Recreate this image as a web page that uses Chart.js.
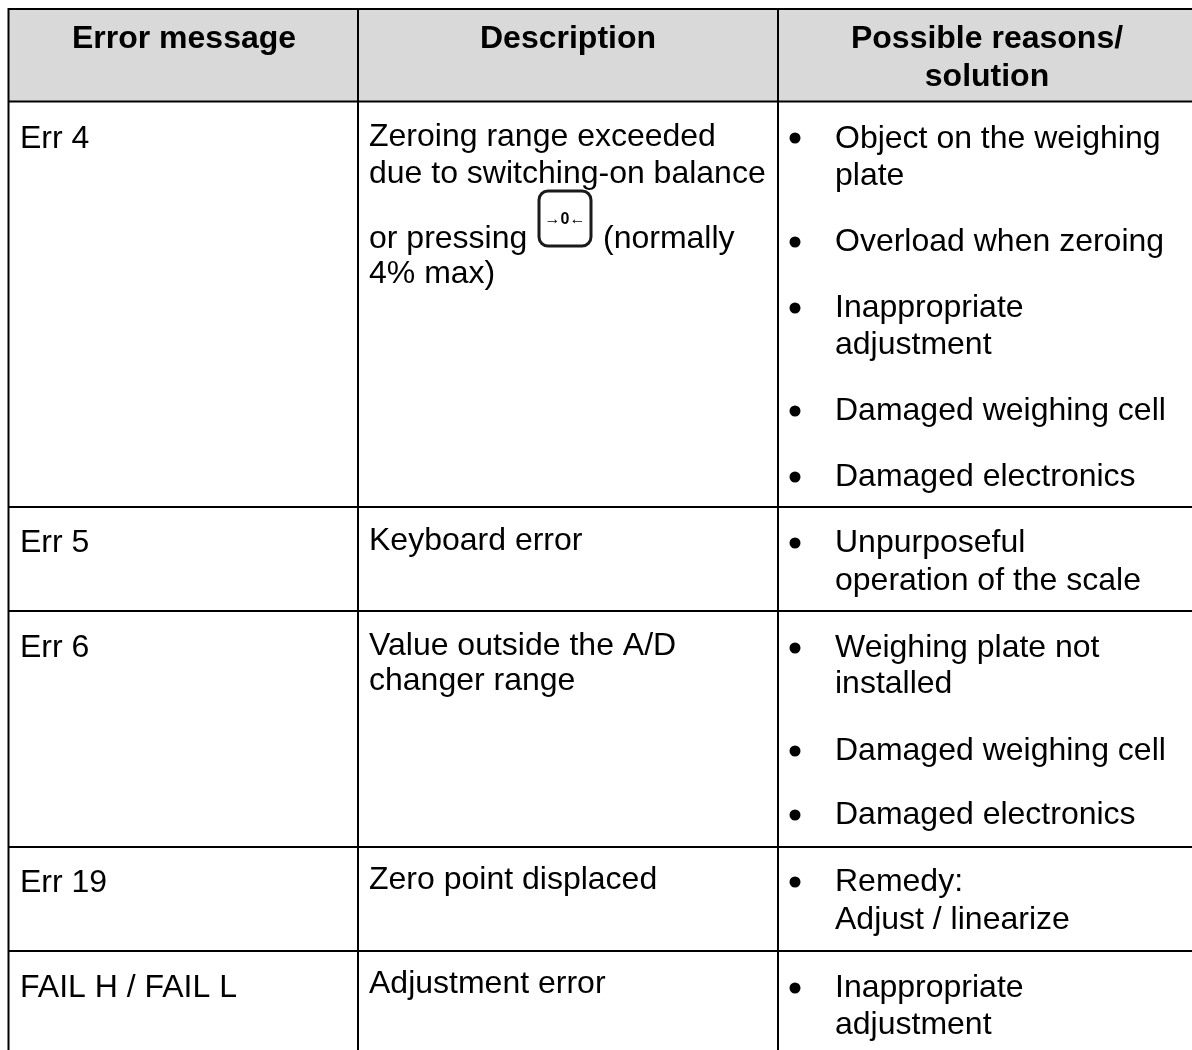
<!DOCTYPE html>
<html>
<head>
<meta charset="utf-8">
<title>Error messages</title>
<script src="https://cdn.jsdelivr.net/npm/chart.js@4"></script>
<style>
  html, body { margin: 0; padding: 0; background: #fff; overflow: hidden; }
  canvas { display: block; }
</style>
</head>
<body>
<canvas id="errors" width="1192" height="1050"></canvas>
<script>
// Table rules, in picture pixels
const columnRules = [8.5, 358, 778];
const rowRules = [9, 101.5, 507, 611, 847, 951];
const tableRight = 1192;
const tableBottom = 1050;

// [text, baseline]
const headerFirst = [['Error message', 48]];
const headerSecond = [['Description', 48]];
const headerThird = [['Possible reasons/', 48], ['solution', 86]];

const errorCodes = [
    ['Err 4', 148],
    ['Err 5', 552],
    ['Err 6', 657],
    ['Err 19', 892],
    ['FAIL H / FAIL L', 997]
];
const descriptions = [
    ['Zeroing range exceeded', 146],
    ['due to switching-on balance', 183],
    ['or pressing', 248],
    ['(normally', 248],
    ['4% max)', 283],
    ['Keyboard error', 550],
    ['Value outside the A/D', 655],
    ['changer range', 690],
    ['Zero point displaced', 889],
    ['Adjustment error', 993]
];
const reasons = [
    ['Object on the weighing', 148],
    ['plate', 185],
    ['Overload when zeroing', 251],
    ['Inappropriate', 317],
    ['adjustment', 354],
    ['Damaged weighing cell', 420],
    ['Damaged electronics', 486],
    ['Unpurposeful', 552],
    ['operation of the scale', 590],
    ['Weighing plate not', 657],
    ['installed', 693],
    ['Damaged weighing cell', 760],
    ['Damaged electronics', 824],
    ['Remedy:', 891],
    ['Adjust / linearize', 929],
    ['Inappropriate', 997],
    ['adjustment', 1034]
];
const bulletRows = [138, 242, 308, 411, 477, 543, 648, 751, 815, 882, 988];
const bulletColumn = 795;

const FONT = '"Liberation Sans", Arial, sans-serif';
const TEXT_SIZE = 32;

// rules as two point line datasets
const ruleStyle = { type: 'line', borderColor: '#000', borderWidth: 2, pointRadius: 0, tension: 0 };
const ruleSets = [
    ...columnRules.map(x => ({ ...ruleStyle, data: [{ x: x, y: rowRules[0] - 1 }, { x: x, y: tableBottom }] })),
    ...rowRules.map(y => ({ ...ruleStyle, data: [{ x: columnRules[0], y: y }, { x: tableRight, y: y }] }))
];

const tableText = {
    id: 'tableText',
    beforeDatasetsDraw(chart) {
        const { ctx, scales: { x, y } } = chart;
        // header shading
        ctx.save();
        ctx.fillStyle = '#d9d9d9';
        ctx.fillRect(x.getPixelForValue(columnRules[0]), y.getPixelForValue(rowRules[0]),
            x.getPixelForValue(tableRight) - x.getPixelForValue(columnRules[0]),
            y.getPixelForValue(rowRules[1]) - y.getPixelForValue(rowRules[0]));
        ctx.restore();
    },
    afterDatasetsDraw(chart) {
        const { ctx, scales: { x, y } } = chart;
        const put = (rows, left, align, weight) => {
            ctx.textAlign = align;
            ctx.textBaseline = 'alphabetic';
            ctx.font = weight + ' ' + TEXT_SIZE + 'px ' + FONT;
            rows.forEach(r => ctx.fillText(r[0], x.getPixelForValue(left), y.getPixelForValue(r[1])));
        };
        ctx.save();
        ctx.fillStyle = '#000';
        put(headerFirst, 184, 'center', 'bold');
        put(headerSecond, 568, 'center', 'bold');
        put(headerThird, 987, 'center', 'bold');
        put(errorCodes, 20, 'left', 'normal');
        put(descriptions.filter(d => d[0] !== '(normally'), 369, 'left', 'normal');
        put(descriptions.filter(d => d[0] === '(normally'), 603, 'left', 'normal');
        put(reasons, 835, 'left', 'normal');

        // zero key symbol
        const kx = x.getPixelForValue(539), ky = y.getPixelForValue(191);
        ctx.lineWidth = 3;
        ctx.strokeStyle = '#1a1a1a';
        ctx.beginPath();
        ctx.roundRect(kx, ky, 52, 55, 9);
        ctx.stroke();
        ctx.font = 'bold 16px ' + FONT;
        ctx.textAlign = 'center';
        ctx.fillText('→0←', kx + 26, ky + 33);
        ctx.restore();
    }
};

new Chart(document.getElementById('errors'), {
    type: 'scatter',
    data: {
        datasets: [
            ...ruleSets,
            {
                data: bulletRows.map(y => ({ x: bulletColumn, y: y })),
                pointRadius: 5.5,
                pointBackgroundColor: '#000',
                pointBorderWidth: 0
            }
        ]
    },
    options: {
        responsive: false,
        animation: false,
        layout: { padding: 0, autoPadding: false },
        plugins: { legend: { display: false }, tooltip: { enabled: false } },
        scales: {
            x: { type: 'linear', min: 0, max: 1192, display: false },
            y: { type: 'linear', min: 0, max: 1050, reverse: true, display: false }
        }
    },
    plugins: [tableText]
});
</script>
</body>
</html>
